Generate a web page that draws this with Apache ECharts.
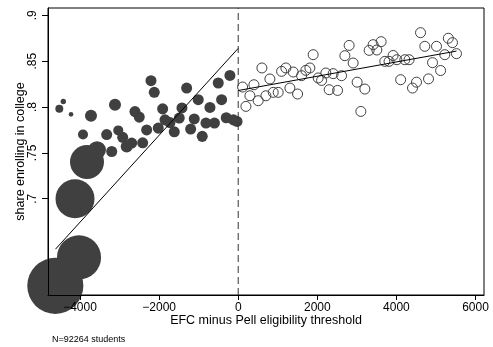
<!DOCTYPE html>
<html>
<head>
<meta charset="utf-8">
<script src="https://cdn.jsdelivr.net/npm/echarts@6/dist/echarts.min.js"></script>
<style>html,body{margin:0;padding:0;background:#fff}#c{width:493px;height:347px}</style>
</head>
<body>
<div id="c"></div>
<script>
// Below-threshold bins (Pell eligible): EFC minus threshold, share enrolling, number of students in bin
const leftX = [-4625,-4524,-4423,-4228,-4127,-4026,-3925,-3824,-3723,-3571,-3326,-3199,-3116,-3033,-2921,-2820,-2694,-2611,-2502,-2416,-2315,-2206,-2123,-2022,-1911,-1852,-1726,-1617,-1491,-1423,-1304,-1203,-1112,-1011,-910,-816,-715,-601,-505,-420,-303,-210,-120,-30];
const leftY = [0.605,0.798,0.806,0.792,0.700,0.636,0.770,0.740,0.7905,0.753,0.770,0.7515,0.8025,0.7745,0.767,0.757,0.7607,0.795,0.789,0.761,0.775,0.8287,0.816,0.777,0.798,0.786,0.783,0.773,0.788,0.799,0.8207,0.776,0.787,0.808,0.768,0.7825,0.7996,0.7825,0.8262,0.808,0.7883,0.8345,0.786,0.7843];
const leftN = [20700,420,190,140,10000,12800,660,7600,950,2100,800,800,950,660,800,950,800,800,800,800,800,800,800,800,800,800,800,800,800,800,800,800,800,800,800,800,800,800,800,800,800,800,800,800];
// Above-threshold bins (not eligible)
const rightX = [111,195,296,397,505,599,700,801,885,1011,1097,1205,1307,1390,1501,1602,1711,1812,1895,2022,2108,2216,2300,2401,2512,2613,2697,2805,2906,3007,3101,3202,3311,3412,3505,3614,3707,3814,3917,4011,4107,4213,4321,4407,4508,4610,4718,4812,4913,5014,5118,5224,5312,5418,5519];
const rightY = [0.8218,0.8007,0.8123,0.8243,0.8069,0.8426,0.8123,0.8306,0.816,0.816,0.8389,0.8426,0.8207,0.8382,0.8142,0.8342,0.84,0.8426,0.8571,0.8317,0.829,0.8371,0.8189,0.8364,0.8181,0.8342,0.856,0.8672,0.848,0.8271,0.7952,0.8196,0.8618,0.868,0.8622,0.8713,0.8498,0.8498,0.8562,0.8516,0.8298,0.8516,0.8516,0.8207,0.8271,0.8811,0.8662,0.8307,0.8484,0.8662,0.8398,0.8571,0.875,0.8702,0.8582];
// Linear fits on each side
const fitLeftX = [-4620, 0];
const fitLeftY = [0.645, 0.864];
const fitRightX = [0, 5520];
const fitRightY = [0.818, 0.861];
const cutoff = 0;
const xTicks = [-4000,-2000,0,2000,4000,6000];
const yTicks = [0.7,0.75,0.8,0.85,0.9];
const xMin = -4810, xMax = 6215, yMin = 0.595, yMax = 0.908;
const noteText = 'N=92264 students';

const zip = (a,b) => a.map((v,i)=>[v,b[i]]);
const dark = '#404040';
const font = 'Liberation Sans, Arial, Helvetica, sans-serif';

const chart = echarts.init(document.getElementById('c'), null, {renderer:'canvas'});
chart.setOption({
  animation: false,
  backgroundColor: '#fff',
  title: {
    text: noteText, left: 47, top: 330,
    textStyle: {fontSize: 9, fontWeight: 'normal', color: '#000', fontFamily: font}
  },
  grid: {left: 48, right: 9, top: 8, bottom: 52, show: true, borderColor: '#000', borderWidth: 1, backgroundColor: '#fff',
    containLabel: false, outerBoundsMode: 'none'},
  xAxis: {
    type: 'value', min: xMin, max: xMax, z: 10,
    name: 'EFC minus Pell eligibility threshold', nameLocation: 'middle', nameGap: 19, nameMoveOverlap: false,
    nameTextStyle: {fontSize: 12.5, color: '#000', fontFamily: font},
    axisLine: {show: true, onZero: false, lineStyle: {color: '#000', width: 1}},
    axisTick: {show: true, length: 5, lineStyle: {color: '#000'}, customValues: xTicks},
    axisLabel: {fontSize: 12, color: '#000', fontFamily: font, margin: 7, customValues: xTicks,
      formatter: v => String(v).replace('-', '\u2212')},
    splitLine: {show: false}
  },
  yAxis: {
    type: 'value', min: yMin, max: yMax, z: 10,
    name: 'share enrolling in college', nameLocation: 'middle', nameGap: 21, nameRotate: 90, nameMoveOverlap: false,
    nameTextStyle: {fontSize: 12.5, color: '#000', fontFamily: font},
    axisLine: {show: true, onZero: false, lineStyle: {color: '#000', width: 1}},
    axisTick: {show: true, length: 6, lineStyle: {color: '#000'}, customValues: yTicks},
    axisLabel: {fontSize: 12, color: '#000', fontFamily: font, rotate: 90, margin: 9, customValues: yTicks,
      formatter: v => String(+v.toFixed(2)).replace(/^0/, '')},
    splitLine: {show: false}
  },
  series: [
    {
      type: 'scatter', clip: false, z: 2,
      data: leftX.map((x,i)=>[x, leftY[i], leftN[i]]),
      symbolSize: d => Math.sqrt(d[2]) * 0.39,
      itemStyle: {color: dark, opacity: 1}
    },
    {
      type: 'scatter', clip: false, z: 2,
      data: zip(rightX, rightY),
      symbolSize: 10,
      itemStyle: {color: 'rgba(0,0,0,0)', borderColor: dark, borderWidth: 1, opacity: 1}
    },
    {
      type: 'line', z: 3, symbol: 'none', data: zip(fitLeftX, fitLeftY),
      lineStyle: {color: '#000', width: 1}
    },
    {
      type: 'line', z: 3, symbol: 'none', data: zip(fitRightX, fitRightY),
      lineStyle: {color: '#000', width: 1}
    },
    {
      type: 'line', z: 3, symbol: 'none', data: [[cutoff, yMin], [cutoff, yMax]],
      lineStyle: {color: '#333', width: 1, type: [7, 4]}
    }
  ]
});
</script>
</body>
</html>
